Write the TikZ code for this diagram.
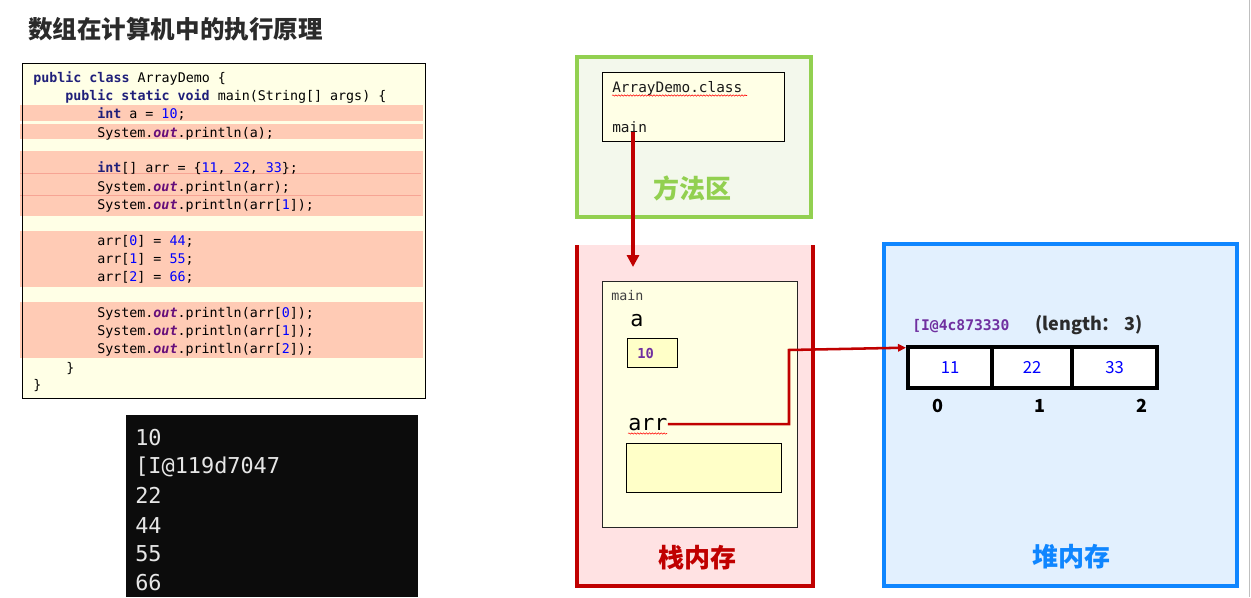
\documentclass[tikz,border=0pt]{standalone}
\usepackage{fontspec}
\usetikzlibrary{arrows.meta,decorations.pathmorphing}
\newfontfamily\cjk{Noto Sans CJK SC}
\newfontfamily\mono{DejaVu Sans Mono}
\definecolor{codebg}{HTML}{FFFFE6}
\definecolor{hl}{HTML}{FFCBB5}
\definecolor{hlline}{HTML}{F7A494}
\definecolor{kwc}{HTML}{1F1F7A}
\definecolor{outc}{HTML}{660E7A}
\definecolor{numc}{HTML}{0000FF}
\definecolor{grn}{HTML}{92D050}
\definecolor{grnbg}{HTML}{F3F8EC}
\definecolor{stk}{HTML}{C00000}
\definecolor{stkbg}{HTML}{FFE2E3}
\definecolor{heapc}{HTML}{0F86FF}
\definecolor{heapbg}{HTML}{E2F0FE}
\definecolor{framebg}{HTML}{FFFFE3}
\definecolor{cellbg}{HTML}{FFFFC8}
\definecolor{purp}{HTML}{7030A0}
\definecolor{titlec}{HTML}{2B2B2B}
\definecolor{consbg}{HTML}{0C0C0C}
\definecolor{constext}{HTML}{E6E6E6}
\newcommand{\kw}[1]{\textcolor{kwc}{\bfseries #1}}
\newcommand{\ou}{\textcolor{outc}{\bfseries\itshape out}}
\newcommand{\nm}[1]{\textcolor{numc}{#1}}
\begin{document}
\begin{tikzpicture}[x=0.75pt,y=-0.75pt,
  codeline/.style={anchor=base west, inner sep=0pt, font=\mono\fontsize{10pt}{12pt}\selectfont},
  consline/.style={anchor=base west, inner sep=0pt, text=constext, font=\mono\fontsize{16.4pt}{18pt}\selectfont},
  hlbox/.style={fill=hl},
  squig/.style={draw=red, line width=0.4pt, decorate, decoration={snake, amplitude=0.5pt, segment length=2.2pt}},
  bigmono/.style={anchor=base west, inner sep=0pt, font=\mono\fontsize{16.3pt}{18pt}\selectfont},
  smallmono/.style={anchor=base west, inner sep=0pt, text=black!85, font=\mono\fontsize{10.8pt}{12pt}\selectfont},
  arealabel/.style={inner sep=0pt, font=\cjk\bfseries\fontsize{19.5pt}{22pt}\selectfont},
  cellnode/.style={draw=black, line width=3pt, fill=white, minimum height=41*0.75pt, inner sep=0pt, text=numc, font=\cjk\fontsize{12.5pt}{14pt}\selectfont},
  idx/.style={inner sep=0pt, font=\cjk\bfseries\fontsize{13.5pt}{15pt}\selectfont}
]
\useasboundingbox (0,0) rectangle (1251,597);
\fill[white] (0,0) rectangle (1251,597);
\draw[gray!50, line width=0.75pt] (1249,0) -- (1249,597);

% title
\node[anchor=west, inner sep=0pt, text=titlec, font=\cjk\bfseries\fontsize{18.4pt}{20pt}\selectfont] (title) at (28,29) {数组在计算机中的执行原理};

% code box
\fill[codebg] (22,63) rectangle (425,398);
\fill[hlbox] (20,105) rectangle (423,121);
\fill[hlbox] (20,124) rectangle (423,139);
\fill[hlbox] (20,151) rectangle (423,216);
\draw[hlline, line width=0.6pt] (20,173) -- (421,173);
\draw[hlline, line width=0.75pt] (20,195) -- (421,195);
\fill[hlbox] (20,231) rectangle (423,287);
\fill[hlbox] (20,302) rectangle (423,358);
\draw[black, line width=0.75pt] (22,63) rectangle (425,398);

\node[codeline] (l1) at (33,82) {\kw{public} \kw{class} ArrayDemo \{};
\node[codeline] (l2) at (65,100) {\kw{public} \kw{static} \kw{void} main(String[] args) \{};
\node[codeline] (l3) at (97,118) {\kw{int} a = \nm{10};};
\node[codeline] (l4) at (97,137) {System.\ou.println(a);};
\node[codeline] (l5) at (97,172) {\kw{int}[] arr = \{\nm{11}, \nm{22}, \nm{33}\};};
\node[codeline] (l6) at (97,191) {System.\ou.println(arr);};
\node[codeline] (l7) at (97,209) {System.\ou.println(arr[\nm{1}]);};
\node[codeline] (l8) at (97,245) {arr[\nm{0}] = \nm{44};};
\node[codeline] (l9) at (97,263) {arr[\nm{1}] = \nm{55};};
\node[codeline] (l10) at (97,281) {arr[\nm{2}] = \nm{66};};
\node[codeline] (l11) at (97,317) {System.\ou.println(arr[\nm{0}]);};
\node[codeline] (l12) at (97,335) {System.\ou.println(arr[\nm{1}]);};
\node[codeline] (l13) at (97,353) {System.\ou.println(arr[\nm{2}]);};
\node[codeline] (l14) at (66,372) {\}};
\node[codeline] (l15) at (33,389) {\}};

% console
\fill[consbg] (126,415) rectangle (418,597);
\node[consline] (o1) at (135,445) {10};
\node[consline] (o2) at (135,473) {[I@119d7047};
\node[consline] (o3) at (135,503) {22};
\node[consline] (o4) at (135,533) {44};
\node[consline] (o5) at (135,561) {55};
\node[consline] (o6) at (135,590) {66};

% method area
\draw[grn, line width=2.6pt, fill=grnbg] (577,57) rectangle (811,217);
\draw[black, line width=0.75pt, fill=codebg] (602,72) rectangle (784,141);
\node[smallmono, text=black!90] (cls) at (612,92) {ArrayDemo.class};
\node[smallmono, text=black!90] (mainm) at (612,132) {main};
\path[squig] (612,95.5) -- (747,95.5);
\node[arealabel, text=grn] (mlabel) at (692,188) {方法区};

% stack
\fill[stkbg] (577,245) rectangle (813,586);
\draw[stk, line width=2.6pt] (577,245) -- (577,586) -- (813,586) -- (813,245);
\draw[black!85, line width=0.75pt, fill=framebg] (602,281) rectangle (797,527);
\node[smallmono, font=\mono\fontsize{10pt}{12pt}\selectfont, text=black!75] (frame) at (611,300) {main};
\node[bigmono] (av) at (630,326) {a};
\draw[black, line width=0.75pt, fill=cellbg] (627,338) rectangle (677,367);
\node[anchor=base west, inner sep=0pt, text=purp, font=\mono\bfseries\fontsize{10.3pt}{12pt}\selectfont] (aval) at (637,358) {10};
\node[bigmono] (arrv) at (628,430) {arr};
\path[squig] (628,433.5) -- (667,433.5);
\draw[black, line width=0.75pt, fill=cellbg] (626,443) rectangle (781,492);
\node[arealabel, text=stk] (slabel) at (697,558) {栈内存};

% heap
\draw[heapc, line width=2.8pt, fill=heapbg] (884,244) rectangle (1237,586);
\node[anchor=base west, inner sep=0pt, text=purp, font=\mono\bfseries\fontsize{11pt}{12pt}\selectfont] (addr) at (912,330) {[I@4c873330};
\node[anchor=west, inner sep=0pt, text=titlec, font=\cjk\bfseries\fontsize{13.5pt}{15pt}\selectfont] (len) at (1035,325) {(length：\ 3)};
\node[cellnode, minimum width=84*0.75pt] (c0) at (950,367.5) {11};
\node[cellnode, minimum width=80*0.75pt] (c1) at (1032,367.5) {22};
\node[cellnode, minimum width=85*0.75pt] (c2) at (1114.5,367.5) {33};
\node[idx] (i0) at (938,406) {0};
\node[idx] (i1) at (1040,406) {1};
\node[idx] (i2) at (1142,406) {2};
\node[arealabel, text=heapc] (hlabel) at (1071,557) {堆内存};

% connectors
\coordinate (mtip) at (633,267);
\draw[stk, line width=2.6pt, -{Triangle[length=9pt,width=9pt]}] (mainm.south -| mtip) -- (mtip);
\coordinate (bend) at (789,350);
\draw[stk, line width=1.9pt, -{Triangle[length=6pt,width=5.5pt]}] (arrv.east) -| (bend) -- ([yshift=-2pt]c0.north west);
\end{tikzpicture}
\end{document}
